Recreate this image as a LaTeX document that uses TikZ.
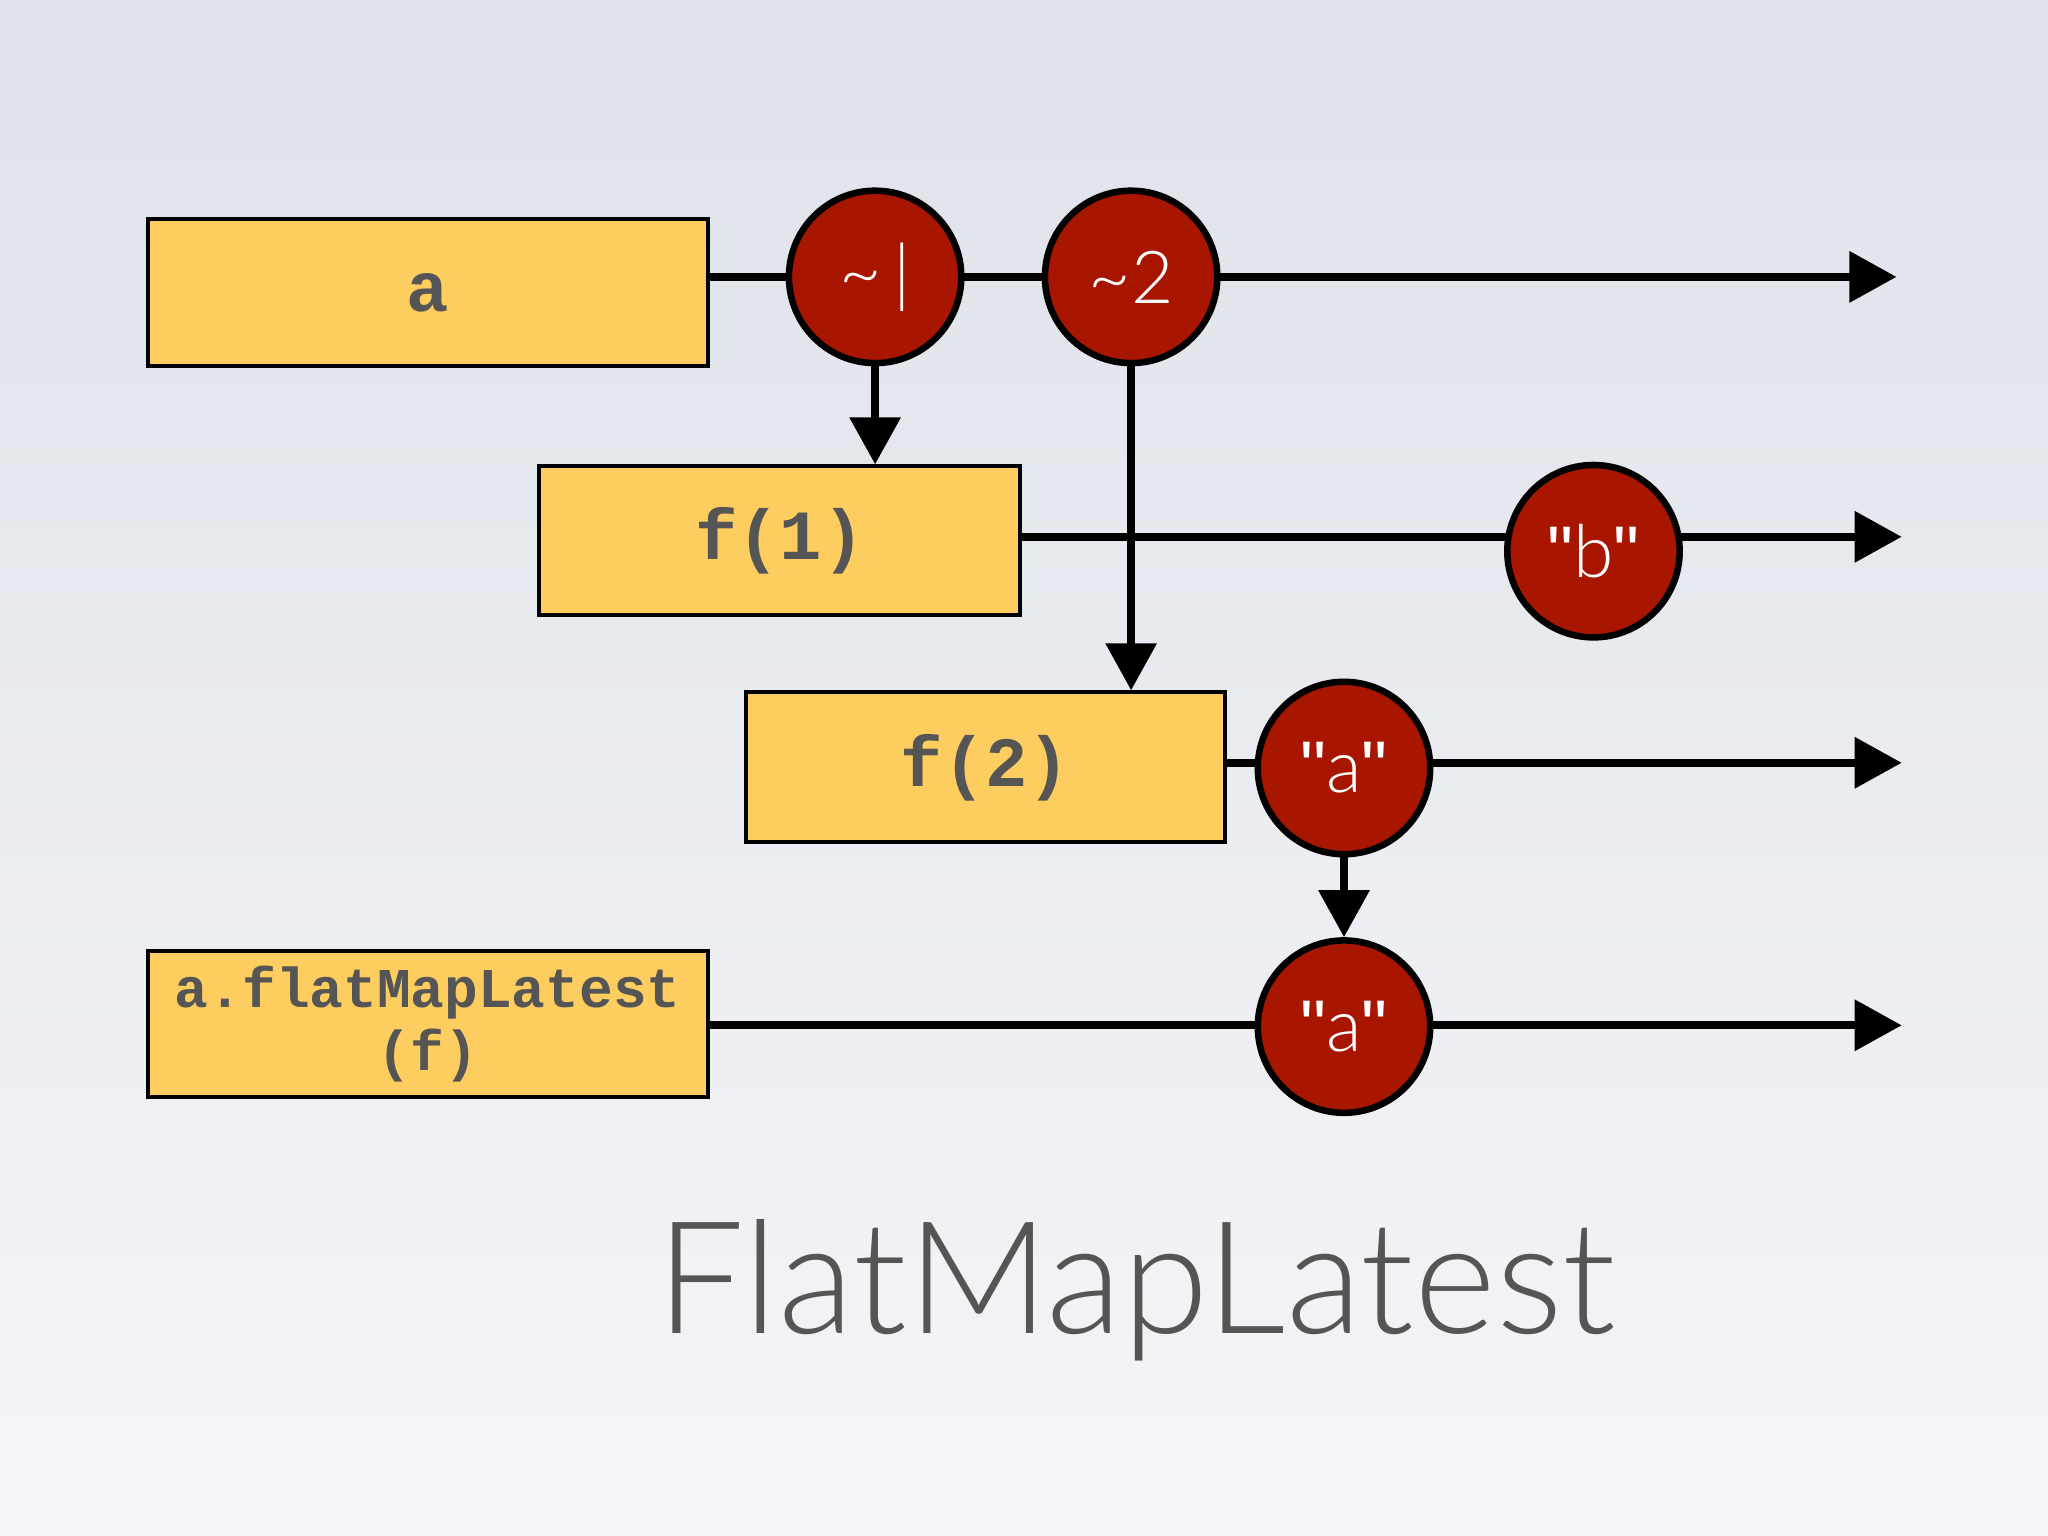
\documentclass[tikz,border=0pt]{standalone}
\usepackage{fontspec}
\setmainfont{Lato Light}
\newfontfamily\monof{Liberation Mono}
\newfontfamily\qf{Liberation Sans}
\usetikzlibrary{arrows.meta}
\definecolor{boxy}{HTML}{FECD5F}
\definecolor{ballred}{HTML}{A81600}
\definecolor{txtg}{HTML}{555555}
\newcommand{\dq}{{\qf\symbol{34}}}
\begin{document}
\begin{tikzpicture}[x=0.5pt,y=-0.5pt,
  ybox/.style={draw=black,line width=1.5pt,fill=boxy,inner sep=0pt,text=txtg,font=\monof\bfseries\fontsize{27}{27}\selectfont,align=center},
  ball/.style={circle,draw=black,line width=2.5pt,fill=ballred,minimum size=66pt,inner sep=0pt,text=white,font=\fontsize{28}{28}\selectfont},
  tl/.style={line width=3pt,-{Triangle[length=18pt,width=19pt]}}]
\shade[top color={rgb,255:red,222;green,226;blue,233},bottom color={rgb,255:red,244;green,245;blue,248}] (0,0) rectangle (1568,1176);
\useasboundingbox (0,0) rectangle (1568,1176);
% boxes
\node[ybox,minimum width=214.5pt,minimum height=56pt] (a) at (327.5,224) {a};
\node[ybox,minimum width=184pt,minimum height=57pt] (f1) at (597,414) {f(1)};
\node[ybox,minimum width=183.5pt,minimum height=57.5pt] (f2) at (754.5,587.5) {f(2)};
\node[ybox,minimum width=214.5pt,minimum height=56pt,font=\monof\bfseries\fontsize{21.5}{24}\selectfont] (fm) at (327.5,784) {a.flatMapLatest\\(f)};
% end coordinates
\coordinate (e1) at (1452,212);
\coordinate (e2) at (1456,411);
\coordinate (e3) at (1456,584);
\coordinate (e4) at (1456,785);
% lines
\draw[tl] (a.east|-e1) -- (e1);
\draw[tl] (f1.east|-e2) -- (e2);
\draw[tl] (f2.east|-e3) -- (e3);
\draw[tl] (fm.east|-e4) -- (e4);
% balls
\node[ball] (b1) at (670,212) {\textasciitilde\,|};
\node[ball] (b2) at (866,212) {\textasciitilde2};
\node[ball] (bb) at (1220,422) {\dq b\dq};
\node[ball] (ba) at (1029,588) {\dq a\dq};
\node[ball] (bo) at (1029,786) {\dq a\dq};
% vertical arrows
\draw[tl] (b1.south) -- (b1.south|-f1.north);
\draw[tl] (b2.south) -- (b2.south|-f2.north);
\draw[tl] (ba.south) -- (bo.north);
% title
\node[text=txtg,font=\fontsize{60}{60}\selectfont] (t) at (870,988) {FlatMapLatest};
\end{tikzpicture}
\end{document}
